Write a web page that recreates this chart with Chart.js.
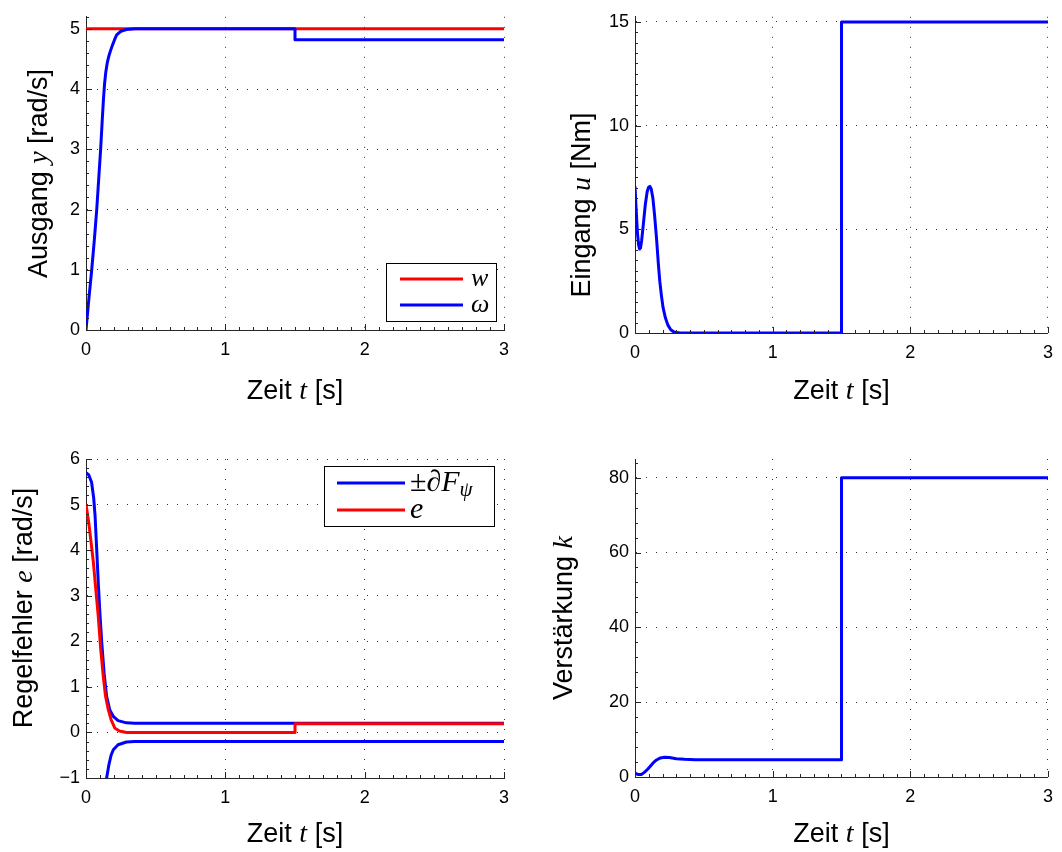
<!DOCTYPE html>
<html>
<head>
<meta charset="utf-8">
<script src="https://cdn.jsdelivr.net/npm/chart.js@4/dist/chart.umd.min.js"></script>
<style>
  html, body { margin: 0; padding: 0; background: #fff; }
  #wrap { position: relative; width: 1062px; height: 852px; }
  .cell { position: absolute; width: 531px; height: 426px; }
</style>
</head>
<body>
<div id="wrap">
  <div class="cell" style="left:0;top:0"><canvas id="c1" width="531" height="426"></canvas></div>
  <div class="cell" style="left:531px;top:0"><canvas id="c2" width="531" height="426"></canvas></div>
  <div class="cell" style="left:0;top:426px"><canvas id="c3" width="531" height="426"></canvas></div>
  <div class="cell" style="left:531px;top:426px"><canvas id="c4" width="531" height="426"></canvas></div>
</div>
<script>
// --- data ---
const tW = [0, 3];
const wVals = [5, 5];

const tOmega =    [0, 0.02, 0.041, 0.06, 0.077, 0.091, 0.105, 0.117, 0.125, 0.133, 0.142, 0.152, 0.163, 0.175, 0.19, 0.205, 0.22, 0.25, 0.29, 0.35, 1.5, 1.5, 3];
const omegaVals = [0, 0.5,  1.0,   1.5,  2.0,   2.5,   3.0,   3.5,   3.82,  4.08,  4.28,  4.43,  4.54,  4.63,  4.73, 4.82,  4.9,  4.96, 4.99, 5.0,  5.0, 4.82, 4.82];

const tU =  [0,    0.008, 0.018, 0.026, 0.033, 0.04, 0.048, 0.06, 0.075, 0.088, 0.098, 0.108, 0.118, 0.13, 0.142, 0.156, 0.17, 0.18, 0.192, 0.203, 0.22, 0.239, 0.26, 0.28, 0.3,  0.33, 1.5, 1.5, 3];
const uVals = [7.07, 6.0,  4.8,   4.25,  4.05,  4.1,  4.45,  5.2,  6.2,   6.8,   7.02,  7.07,  6.95,  6.5,  5.7,   4.6,   3.3,  2.5,  1.8,   1.26,  0.75, 0.38,  0.16, 0.06, 0.02, 0,    0,   15,  15];

const tBound =     [0,   0.02, 0.04, 0.055, 0.065, 0.077, 0.088, 0.1, 0.113, 0.13, 0.148, 0.17, 0.196, 0.23, 0.29, 0.35, 3];
const boundUpper = [5.7, 5.65, 5.49, 5.15,  4.76,  4.0,   3.29,  2.6, 1.97,  1.3,  0.79,  0.5,  0.35,  0.26, 0.21, 0.2,  0.2];
const tBoundLow =  [0.12, 0.13, 0.148, 0.165, 0.18, 0.196, 0.23,  0.29,  0.35, 3];
const boundLower = [-1.7, -1.3, -1.0,  -0.7,  -0.5, -0.38, -0.27, -0.21, -0.2, -0.2];

const tE =  [0,   0.02, 0.053, 0.07, 0.088, 0.105, 0.124, 0.14, 0.16, 0.18, 0.208, 0.24, 0.29, 1.5, 1.5,  3];
const eVals = [5.0, 4.6,  3.73,  3.15, 2.55,  1.85,  1.23,  0.8,  0.5,  0.28, 0.09,  0.03, 0.0,  0.0, 0.19, 0.19];

const tK =  [0,   0.02, 0.048, 0.07, 0.09, 0.108, 0.13, 0.156, 0.185, 0.215, 0.25, 0.3, 0.36, 0.44, 0.6, 1.5, 1.5, 3];
const kVals = [1.0, 0.7,  0.7,   1.3,  2.0,  2.76,  3.7,  4.55,  5.1,   5.3,   5.2,  4.9, 4.72, 4.62, 4.6, 4.6, 80,  80];

const xTicks = [0, 1, 2, 3];
const yTicksY = [0, 1, 2, 3, 4, 5];
const yTicksU = [0, 5, 10, 15];
const yTicksE = [-1, 0, 1, 2, 3, 4, 5, 6];
const yTicksK = [0, 20, 40, 60, 80];

const BLUE = '#0000ff', RED = '#ff0000', AXIS = '#262626';
const SANS = '"Liberation Sans", Arial, sans-serif';
const SERIF = '"Liberation Serif", "Times New Roman", serif';
const W = 531, H = 426;

function pts(ts, vs) { return ts.map((t, i) => ({ x: t, y: vs[i] })); }

function rich(ctx, segs, x, y, rotate) {
  ctx.save();
  ctx.translate(x, y);
  if (rotate) ctx.rotate(-Math.PI / 2);
  let total = 0;
  segs.forEach(s => { ctx.font = s.f; s.w = ctx.measureText(s.t).width; total += s.w; });
  let cx = -total / 2;
  ctx.textBaseline = 'middle';
  ctx.textAlign = 'left';
  ctx.fillStyle = '#000';
  segs.forEach(s => { ctx.font = s.f; ctx.fillText(s.t, cx, s.dy || 0); cx += s.w; });
  ctx.restore();
}

function richLeft(ctx, segs, x, y) {
  let cx = x;
  ctx.textBaseline = 'middle';
  ctx.textAlign = 'left';
  ctx.fillStyle = '#000';
  segs.forEach(s => { ctx.font = s.f; ctx.fillText(s.t, cx, y + (s.dy || 0)); cx += ctx.measureText(s.t).width; });
}

function decor(cfg) {
  return {
    id: 'decor',
    afterDraw(chart) {
      const ctx = chart.ctx, a = chart.chartArea;
      const xs = chart.scales.x, ys = chart.scales.y;
      ctx.save();
      ctx.strokeStyle = AXIS;
      ctx.lineWidth = 1;
      ctx.beginPath();
      // minor ticks (inward)
      for (let v = xs.min; v <= xs.max + 1e-9; v += cfg.xMinor) {
        const px = Math.round(xs.getPixelForValue(v)) + 0.5;
        ctx.moveTo(px, a.bottom); ctx.lineTo(px, a.bottom - 3);
      }
      for (let v = ys.min; v <= ys.max + 1e-9; v += cfg.yMinor) {
        const py = Math.round(ys.getPixelForValue(v)) + 0.5;
        ctx.moveTo(a.left, py); ctx.lineTo(a.left + 3, py);
      }
      // major ticks (inward)
      xs.ticks.forEach(t => {
        const px = Math.round(xs.getPixelForValue(t.value)) + 0.5;
        ctx.moveTo(px, a.bottom); ctx.lineTo(px, a.bottom - 6);
      });
      ys.ticks.forEach(t => {
        const py = Math.round(ys.getPixelForValue(t.value)) + 0.5;
        ctx.moveTo(a.left, py); ctx.lineTo(a.left + 6, py);
      });
      ctx.stroke();

      // axis titles
      rich(ctx, cfg.xTitle, (a.left + a.right) / 2, cfg.xTitleY, false);
      rich(ctx, cfg.yTitle, cfg.yTitleX, cfg.yTitleY !== undefined ? cfg.yTitleY : (a.top + a.bottom) / 2, true);

      // legend
      if (cfg.legend) {
        const L = cfg.legend;
        ctx.fillStyle = '#fff';
        ctx.fillRect(L.x, L.y, L.w, L.h);
        ctx.strokeStyle = '#000';
        ctx.lineWidth = 1;
        ctx.strokeRect(L.x + 0.5, L.y + 0.5, L.w, L.h);
        L.items.forEach(it => {
          ctx.strokeStyle = it.color;
          ctx.lineWidth = 3;
          ctx.beginPath();
          ctx.moveTo(L.lineX0, it.y); ctx.lineTo(L.lineX1, it.y);
          ctx.stroke();
          richLeft(ctx, it.label, L.textX, it.y);
        });
      }
      ctx.restore();
    }
  };
}

function fmt(v) { return v < 0 ? '\u2212' + Math.abs(v) : String(v); }

function plot(id, area, datasets, yTicks, yMin, yMax, cfg) {
  return new Chart(document.getElementById(id), {
    type: 'line',
    data: { datasets: datasets },
    options: {
      responsive: false,
      animation: false,
      layout: { padding: { left: 0, top: area.top, right: W - area.right, bottom: 0 } },
      plugins: { legend: { display: false }, tooltip: { enabled: false } },
      elements: { point: { radius: 0 }, line: { borderWidth: 3, tension: 0, borderCapStyle: 'butt', borderJoinStyle: 'round' } },
      scales: {
        x: {
          type: 'linear', min: 0, max: 3,
          afterFit: s => { s.height = H - area.bottom; },
          afterBuildTicks: s => { s.ticks = xTicks.map(v => ({ value: v })); },
          grid: { color: '#333', lineWidth: 1, drawTicks: false },
          border: { display: true, color: AXIS, width: 1, dash: [1, 9] },
          ticks: { font: { family: SANS, size: 18 }, color: '#000', padding: 9, autoSkip: false, maxRotation: 0, callback: fmt }
        },
        y: {
          type: 'linear', min: yMin, max: yMax,
          afterFit: s => { s.width = area.left; },
          afterBuildTicks: s => { s.ticks = yTicks.map(v => ({ value: v })); },
          grid: { color: '#333', lineWidth: 1, drawTicks: false },
          border: { display: true, color: AXIS, width: 1, dash: [1, 9] },
          ticks: { font: { family: SANS, size: 18 }, color: '#000', padding: 6, autoSkip: false, callback: fmt }
        }
      }
    },
    plugins: [decor(cfg)]
  });
}

const TS = 'normal 27px ' + SANS;
const TM = 'italic 28px ' + SERIF;
const xTitle = [{ t: 'Zeit ', f: TS }, { t: 't', f: TM }, { t: ' [s]', f: TS }];

// top left: output
plot('c1', { left: 86, top: 14, right: 504, bottom: 330 }, [
  { data: pts(tW, wVals), borderColor: RED, order: 2 },
  { data: pts(tOmega, omegaVals), borderColor: BLUE, order: 1 }
], yTicksY, 0, 5.2, {
  xMinor: 0.1, yMinor: 0.2,
  xTitle: xTitle, xTitleY: 392,
  yTitle: [{ t: 'Ausgang ', f: TS }, { t: 'y', f: TM }, { t: ' [rad/s]', f: TS }], yTitleX: 40,
  legend: {
    x: 386, y: 263, w: 110, h: 58, lineX0: 400, lineX1: 463, textX: 471,
    items: [
      { color: RED, y: 279, label: [{ t: 'w', f: 'italic 26px ' + SERIF }] },
      { color: BLUE, y: 305, label: [{ t: '\u03c9', f: 'italic 26px ' + SERIF }] }
    ]
  }
});

// top right: input
plot('c2', { left: 104, top: 14, right: 522, bottom: 333 }, [
  { data: pts(tU, uVals), borderColor: BLUE }
], yTicksU, 0, 15.25, {
  xMinor: 0.1, yMinor: 0.5,
  xTitle: xTitle, xTitleY: 392,
  yTitle: [{ t: 'Eingang ', f: TS }, { t: 'u', f: TM }, { t: ' [Nm]', f: TS }], yTitleX: 52, yTitleY: 205
});

// bottom left: control error with bounds
plot('c3', { left: 86, top: 33, right: 504, bottom: 352 }, [
  { data: pts(tBound, boundUpper), borderColor: BLUE, order: 2 },
  { data: pts(tBoundLow, boundLower), borderColor: BLUE, order: 3 },
  { data: pts(tE, eVals), borderColor: RED, order: 1 }
], yTicksE, -1, 6, {
  xMinor: 0.1, yMinor: 0.2,
  xTitle: xTitle, xTitleY: 409,
  yTitle: [{ t: 'Regelfehler ', f: TS }, { t: 'e', f: TM }, { t: ' [rad/s]', f: TS }], yTitleX: 25, yTitleY: 182,
  legend: {
    x: 324, y: 40, w: 170, h: 60, lineX0: 337, lineX1: 405, textX: 410,
    items: [
      { color: BLUE, y: 57, label: [
        { t: '\u00b1\u2202', f: 'normal 30px ' + SERIF },
        { t: 'F', f: 'italic 30px ' + SERIF },
        { t: '\u03c8', f: 'italic 21px ' + SERIF, dy: 7 }
      ] },
      { color: RED, y: 84, label: [{ t: 'e', f: 'italic 30px ' + SERIF }] }
    ]
  }
});

// bottom right: gain
plot('c4', { left: 104, top: 33, right: 522, bottom: 351 }, [
  { data: pts(tK, kVals), borderColor: BLUE }
], yTicksK, 0, 85, {
  xMinor: 0.1, yMinor: 4,
  xTitle: xTitle, xTitleY: 409,
  yTitle: [{ t: 'Verst\u00e4rkung ', f: TS }, { t: 'k', f: TM }], yTitleX: 34
});
</script>
</body>
</html>
